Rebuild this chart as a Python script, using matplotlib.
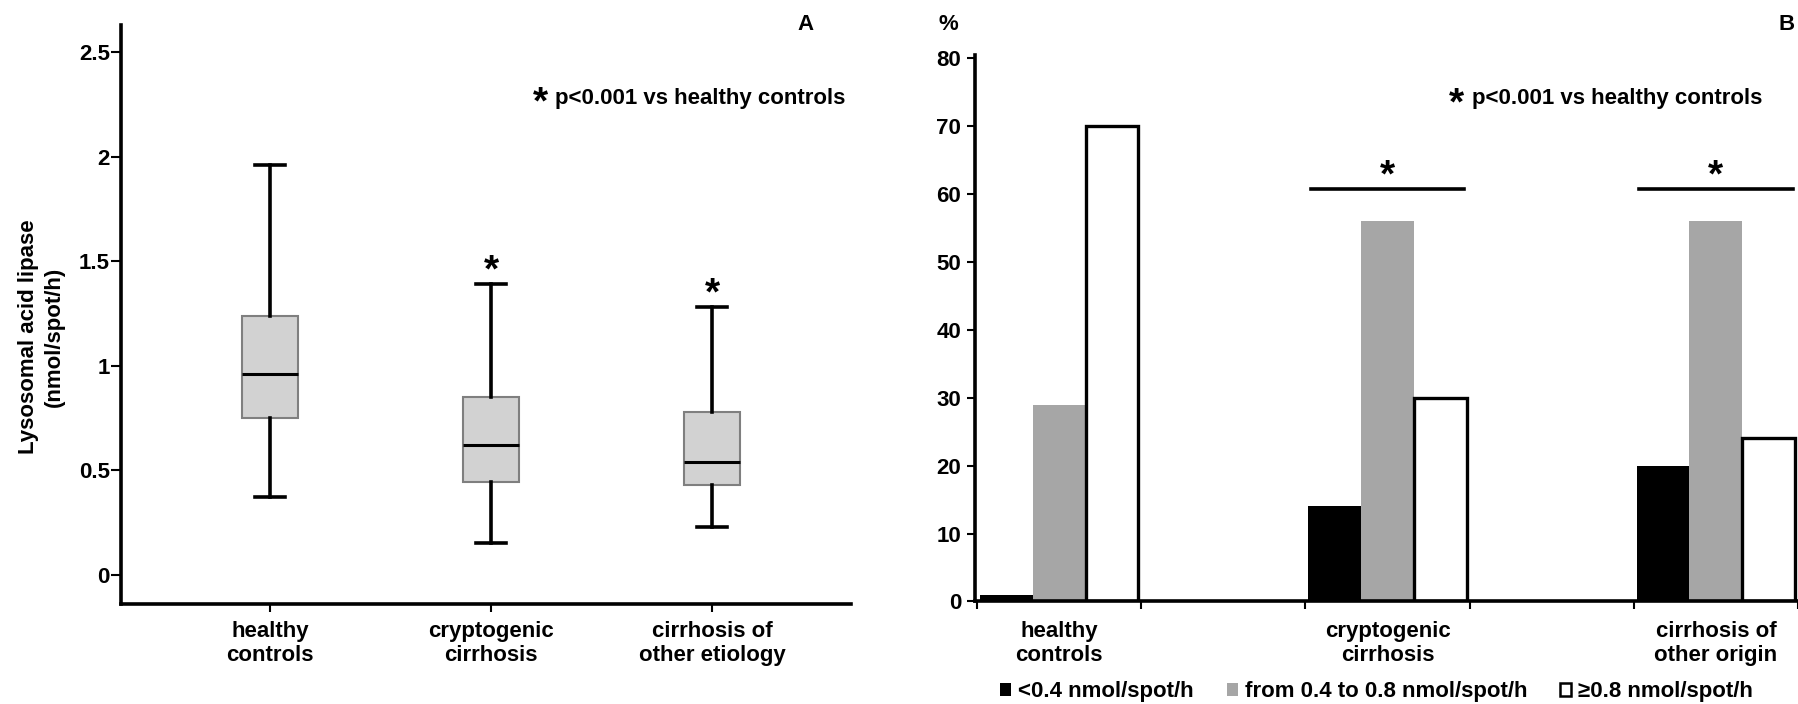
import matplotlib
matplotlib.use('Agg')
import matplotlib.pyplot as plt
from matplotlib.patches import Patch
import numpy as np

# panel A: box plot summary (nmol/spot/h)
groups_a = ['healthy\ncontrols', 'cryptogenic\ncirrhosis', 'cirrhosis of\nother etiology']
med = [0.96, 0.62, 0.54]
q1 = [0.75, 0.445, 0.43]
q3 = [1.24, 0.85, 0.78]
whislo = [0.37, 0.15, 0.23]
whishi = [1.96, 1.39, 1.28]
signif_a = [False, True, True]

# panel B: distribution by activity class (%)
groups_b = ['healthy\ncontrols', 'cryptogenic\ncirrhosis', 'cirrhosis of\nother origin']
low = [1, 14, 20]
mid = [29, 56, 56]
high = [70, 30, 24]
signif_b = [False, True, True]
sig_line = 60.7
classes = ['<0.4 nmol/spot/h', 'from 0.4 to 0.8 nmol/spot/h', '\u22650.8 nmol/spot/h']

plt.rcParams['font.family'] = ['Liberation Sans', 'DejaVu Sans']
plt.rcParams['font.weight'] = 'bold'
fs = 16
star_fs = 28


def star(axis, x, y, dy_px=0, coords='data'):
    # asterisk sitting on its baseline, shifted by dy_px pixels
    axis.annotate('*', xy=(x, y), xycoords=coords, xytext=(0, dy_px * 0.72),
                  textcoords='offset points', ha='center', va='baseline',
                  fontsize=star_fs, fontweight='bold')


fig = plt.figure(figsize=(17.98, 7.04), dpi=100, facecolor='white')

# ---------- A ----------
ax = fig.add_axes([0.0673, 0.142, 0.406, 0.8225])
stats = []
for i in range(len(groups_a)):
    stats.append(dict(med=med[i], q1=q1[i], q3=q3[i], whislo=whislo[i], whishi=whishi[i], fliers=[]))
pos = np.arange(1, len(groups_a) + 1)
ax.bxp(stats, positions=pos, widths=0.256, patch_artist=True, showfliers=False,
       boxprops=dict(facecolor='#d2d2d2', edgecolor='#7f7f7f', linewidth=1.5),
       medianprops=dict(color='black', linewidth=2.2),
       whiskerprops=dict(color='black', linewidth=2.6),
       capprops=dict(color='black', linewidth=2.6),
       capwidths=0.136)
for i in range(len(groups_a)):
    if signif_a[i]:
        star(ax, pos[i], whishi[i], dy_px=3)
ax.set_xlim(0.326, 3.629)
ax.set_ylim(-0.14, 2.63)
ax.set_yticks([0, 0.5, 1, 1.5, 2, 2.5])
ax.set_yticklabels(['0', '0.5', '1', '1.5', '2', '2.5'])
ax.set_xticks(pos)
ax.set_xticklabels(groups_a, fontsize=fs)
for s in ['top', 'right']:
    ax.spines[s].set_visible(False)
for s in ['left', 'bottom']:
    ax.spines[s].set_linewidth(2.6)
ax.tick_params(axis='y', labelsize=fs, length=7, width=1.5, pad=1)
ax.tick_params(axis='x', length=6, width=1.5, pad=6)
ax.set_ylabel('Lysosomal acid lipase\n(nmol/spot/h)', fontsize=fs, fontweight='bold', linespacing=1.3)
ax.yaxis.set_label_coords(-0.0767, 0.461)
ax.text(0.595, 0.8636, 'p<0.001 vs healthy controls', transform=ax.transAxes, fontsize=fs,
        va='baseline', fontweight='bold')
star(ax, 0.575, 0.8636, dy_px=-10, coords='axes fraction')
fig.text(805 / 1798, 1 - 25 / 704, 'A', fontsize=fs, fontweight='bold', ha='center', va='center')

# ---------- B ----------
bx = fig.add_axes([0.5423, 0.1457, 0.4577, 0.7763])
x = np.arange(len(groups_b))
w = 0.161
bx.bar(x - w, low, w, color='black', edgecolor='black', linewidth=0)
bx.bar(x, mid, w, color='#a6a6a6', linewidth=0)
bx.bar(x + w, high, w, color='white', edgecolor='black', linewidth=2.4)
for i in range(len(groups_b)):
    if signif_b[i]:
        bx.plot([x[i] - 1.45 * w, x[i] + 1.45 * w], [sig_line, sig_line], color='black', lw=2.6)
        star(bx, x[i], sig_line, dy_px=3)
bx.set_xlim(-0.256, 2.19)
bx.set_ylim(0, 80.5)
bx.set_yticks(range(0, 81, 10))
bx.set_xticks(x)
bx.set_xticklabels(groups_b, fontsize=fs)
bx.set_xticks(np.concatenate([x - 0.25, x + 0.25]), minor=True)
for s in ['top', 'right']:
    bx.spines[s].set_visible(False)
for s in ['left', 'bottom']:
    bx.spines[s].set_linewidth(2.6)
bx.tick_params(axis='y', labelsize=fs, length=6, width=1.5, pad=4)
bx.tick_params(axis='x', which='major', length=0, pad=14)
bx.tick_params(axis='x', which='minor', length=6, width=1.5)
fig.text(948 / 1798, 1 - 25 / 704, '%', fontsize=fs, fontweight='bold', ha='center', va='center')
fig.text(1787 / 1798, 1 - 25 / 704, 'B', fontsize=fs, fontweight='bold', ha='center', va='center')
bx.text(0.604, 0.910, 'p<0.001 vs healthy controls', transform=bx.transAxes, fontsize=fs,
        va='baseline', fontweight='bold')
star(bx, 0.585, 0.910, dy_px=-10, coords='axes fraction')

handles = [Patch(facecolor='black', edgecolor='black', linewidth=0),
           Patch(facecolor='#a6a6a6', edgecolor='#a6a6a6', linewidth=0),
           Patch(facecolor='white', edgecolor='black', linewidth=1.8)]
fig.legend(handles, classes, loc='center left', bbox_to_anchor=(1000 / 1798, 1 - 692 / 704), ncol=3,
           frameon=False, fontsize=fs, handlelength=0.5, handleheight=0.5,
           handletextpad=0.3, columnspacing=1.5, borderpad=0, borderaxespad=0)

fig.savefig('out.png', dpi=100, facecolor='white')
